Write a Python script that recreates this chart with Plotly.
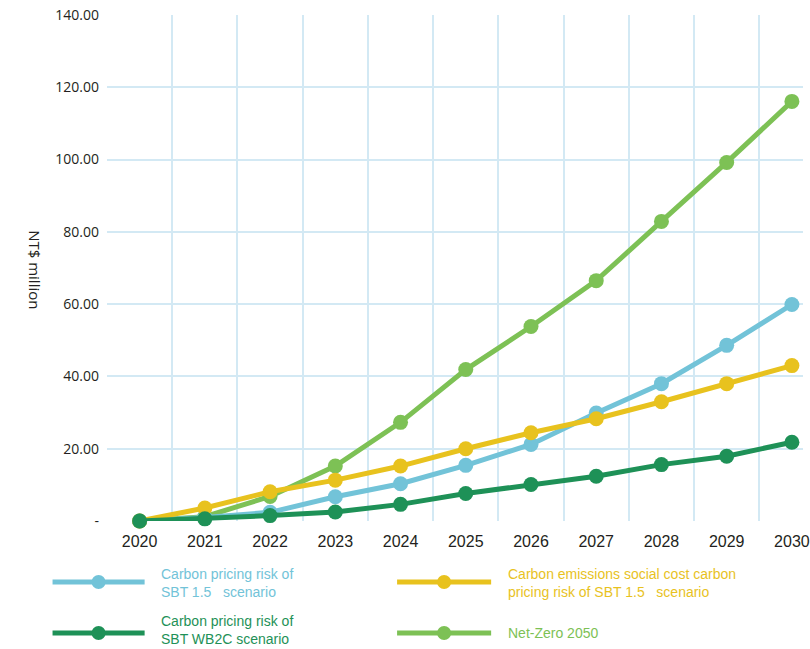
import plotly.graph_objects as go

years = [2020, 2021, 2022, 2023, 2024, 2025, 2026, 2027, 2028, 2029, 2030]

sbt15 = [0, 1.0, 2.4, 6.7, 10.3, 15.4, 21.2, 29.9, 38.0, 48.6, 59.9]
social_cost_sbt15 = [0, 3.6, 8.1, 11.3, 15.2, 20.0, 24.4, 28.3, 33.0, 38.0, 43.0]
sbt_wb2c = [0, 0.6, 1.5, 2.5, 4.6, 7.6, 10.1, 12.4, 15.6, 17.9, 21.8]
net_zero = [0, 1.2, 6.8, 15.2, 27.3, 41.9, 53.8, 66.5, 82.9, 99.2, 116.1]

y_ticks = [0, 20, 40, 60, 80, 100, 120, 140]
y_tick_text = ["-"] + [f"{v:.2f}" for v in y_ticks[1:]]

series_names = [
    "Carbon pricing risk of<br>SBT 1.5   scenario",
    "Carbon emissions social cost carbon<br>pricing risk of SBT 1.5   scenario",
    "Carbon pricing risk of<br>SBT WB2C scenario",
    "Net-Zero 2050",
]
colors = {
    "sbt15": "#72C3D8",
    "social": "#E8C21E",
    "wb2c": "#1E9157",
    "netzero": "#7DC155",
}

W, H = 810, 649
ML, MR, MT, MB = 107, 0, 15, 128
PLOT_W = W - ML - MR
PLOT_H = H - MT - MB


def px_x(px):
    return (px - ML) / PLOT_W


def px_y(py):
    return (H - MB - py) / PLOT_H


x_idx = list(range(len(years)))

fig = go.Figure()
# drawing order: light green at the bottom, dark green on top
for vals, key in [(net_zero, "netzero"), (sbt15, "sbt15"),
                  (social_cost_sbt15, "social"), (sbt_wb2c, "wb2c")]:
    fig.add_trace(go.Scatter(
        x=x_idx, y=vals, mode="lines+markers",
        line=dict(color=colors[key], width=5),
        marker=dict(color=colors[key], size=15),
        cliponaxis=False, showlegend=False, hoverinfo="skip",
    ))

grid_col = "#D3E9F4"
narrow = "Liberation Sans Narrow, Arial Narrow, Liberation Sans"
fig.update_layout(
    width=W, height=H,
    margin=dict(l=ML, r=MR, t=MT, b=MB),
    paper_bgcolor="white", plot_bgcolor="white",
    xaxis=dict(
        range=[-0.5, 10.17], tickmode="array", tickvals=x_idx,
        ticktext=[str(y) for y in years], showgrid=False, zeroline=False,
        ticks="", showline=False, ticklabelstandoff=9,
        ticklabeloverflow="allow",
        tickfont=dict(family=narrow, size=16, color="#231F20"),
        minor=dict(tickmode="linear", tick0=-0.5, dtick=1, showgrid=True,
                   gridcolor=grid_col, gridwidth=1.5, ticks=""),
    ),
    yaxis=dict(
        range=[0, 140], tickmode="array", tickvals=y_ticks, ticktext=y_tick_text,
        showgrid=True, gridcolor=grid_col, gridwidth=1.5, zeroline=False,
        ticks="", showline=False, ticklabelstandoff=7,
        tickfont=dict(family="Open Sans, Noto Sans", size=14, color="#231F20"),
    ),
    font=dict(family="Open Sans, Noto Sans", color="#231F20"),
)

fig.add_annotation(
    text="NT$ million", xref="paper", yref="paper",
    x=px_x(22), y=px_y(270), textangle=90, showarrow=False,
    font=dict(family="Open Sans, Noto Sans", size=15, color="#231F20"),
)

# custom legend: long line with a dot in the middle, coloured two-line text
legend_items = [
    (series_names[0], colors["sbt15"], 52, 145, 160, 582, 583),
    (series_names[1], colors["social"], 400, 495, 510, 582, 583),
    (series_names[2], colors["wb2c"], 52, 145, 160, 633, 630),
    (series_names[3], colors["netzero"], 400, 495, 510, 633, 633),
]
for label, col, x0, x1, tx, ly, ty in legend_items:
    fig.add_shape(type="line", xref="paper", yref="paper",
                  x0=px_x(x0), x1=px_x(x1), y0=px_y(ly), y1=px_y(ly),
                  line=dict(color=col, width=5))
    cx = px_x((x0 + x1) / 2)
    fig.add_shape(type="circle", xref="paper", yref="paper",
                  xsizemode="pixel", ysizemode="pixel",
                  xanchor=cx, yanchor=px_y(ly),
                  x0=-7, x1=7, y0=-7, y1=7,
                  fillcolor=col, line=dict(color=col, width=0))
    fig.add_annotation(
        text=label, xref="paper", yref="paper",
        x=px_x(tx), y=px_y(ty), xanchor="left", yanchor="middle",
        align="left", showarrow=False,
        font=dict(family=narrow, size=14, color=col),
    )

fig.write_html("out.html")
